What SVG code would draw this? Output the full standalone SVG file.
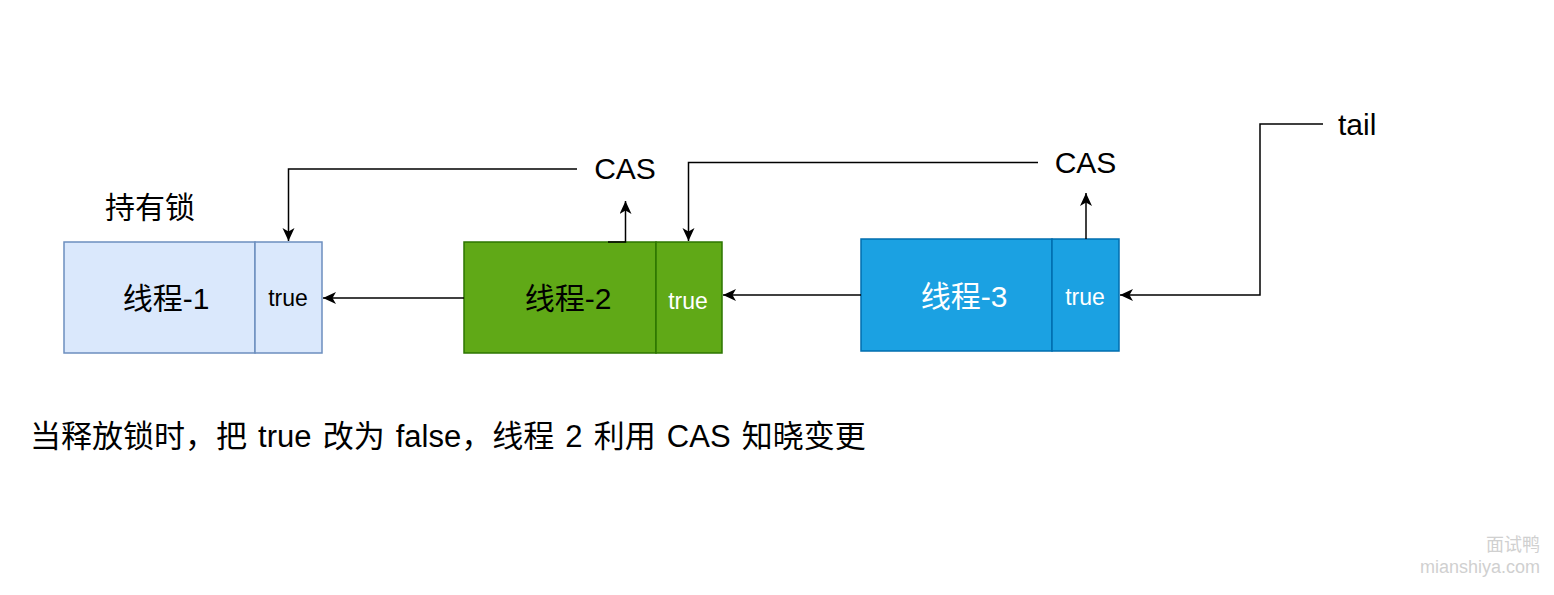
<svg xmlns="http://www.w3.org/2000/svg" width="1554" height="595" viewBox="0 0 1554 595">
<style>
text{font-family:"Liberation Sans","Noto Sans CJK SC",Arial,sans-serif;}
.big{font-size:30px;}
.small{font-size:23px;}
.mid{text-anchor:middle;}
.conn{fill:none;stroke:#000;stroke-width:1.5;}
.n1{fill:#dae8fc;stroke:#6c8ebf;stroke-width:1.5;}
.n2{fill:#60a917;stroke:#2d7600;stroke-width:1.5;}
.n3{fill:#1ba1e2;stroke:#006eaf;stroke-width:1.5;}
.wm{font-size:18px;fill:#d0d0d0;text-anchor:end;}
</style>
<defs>
<marker id="arr" markerUnits="userSpaceOnUse" markerWidth="15" markerHeight="13" refX="13" refY="6" orient="auto">
<path d="M0,0 L13,6 L0,12 L3.5,6 Z" fill="#000"/>
</marker>
</defs>
<rect width="1554" height="595" fill="#fff"/>
<g id="node1">
<rect class="n1" x="64" y="242" width="191" height="111"/>
<rect class="n1" x="255" y="242" width="67" height="111"/>
<text class="big mid" x="166" y="309" fill="#000">线程-1</text>
<text class="small mid" x="288" y="306" fill="#000">true</text>
</g>
<g id="node2">
<rect class="n2" x="464" y="242" width="192" height="111"/>
<rect class="n2" x="656" y="242" width="66" height="111"/>
<text class="big mid" x="568" y="309" fill="#000">线程-2</text>
<text class="small mid" x="688" y="309" fill="#fff">true</text>
</g>
<g id="node3">
<rect class="n3" x="861" y="239" width="191" height="112"/>
<rect class="n3" x="1052" y="239" width="67" height="112"/>
<text class="big mid" x="964" y="307" fill="#fff">线程-3</text>
<text class="small mid" x="1085" y="305" fill="#fff">true</text>
</g>
<g id="labels">
<text class="big" x="105" y="218">持有锁</text>
<text class="big mid" x="625" y="179">CAS</text>
<text class="big mid" x="1085.5" y="173">CAS</text>
<text class="big" x="1338" y="135">tail</text>
<text x="30" y="447" style="font-size:31px;word-spacing:2.5px">当释放锁时，把 true 改为 false，线程 2 利用 CAS 知晓变更</text>
</g>
<g id="connectors">
<path class="conn" d="M464,298 L323,298" marker-end="url(#arr)"/>
<path class="conn" d="M861,295 L723,295" marker-end="url(#arr)"/>
<path class="conn" d="M1323,124 L1260,124 L1260,295 L1120,295" marker-end="url(#arr)"/>
<path class="conn" d="M577,169 L288.5,169 L288.5,241" marker-end="url(#arr)"/>
<path class="conn" d="M608,242 L625.5,242 L625.5,201" marker-end="url(#arr)"/>
<path class="conn" d="M1038,162.5 L688.5,162.5 L688.5,241" marker-end="url(#arr)"/>
<path class="conn" d="M1086,239 L1086,193" marker-end="url(#arr)"/>
</g>
<g id="watermark">
<text class="wm" x="1540" y="551">面试鸭</text>
<text class="wm" x="1540" y="573">mianshiya.com</text>
</g>
</svg>
